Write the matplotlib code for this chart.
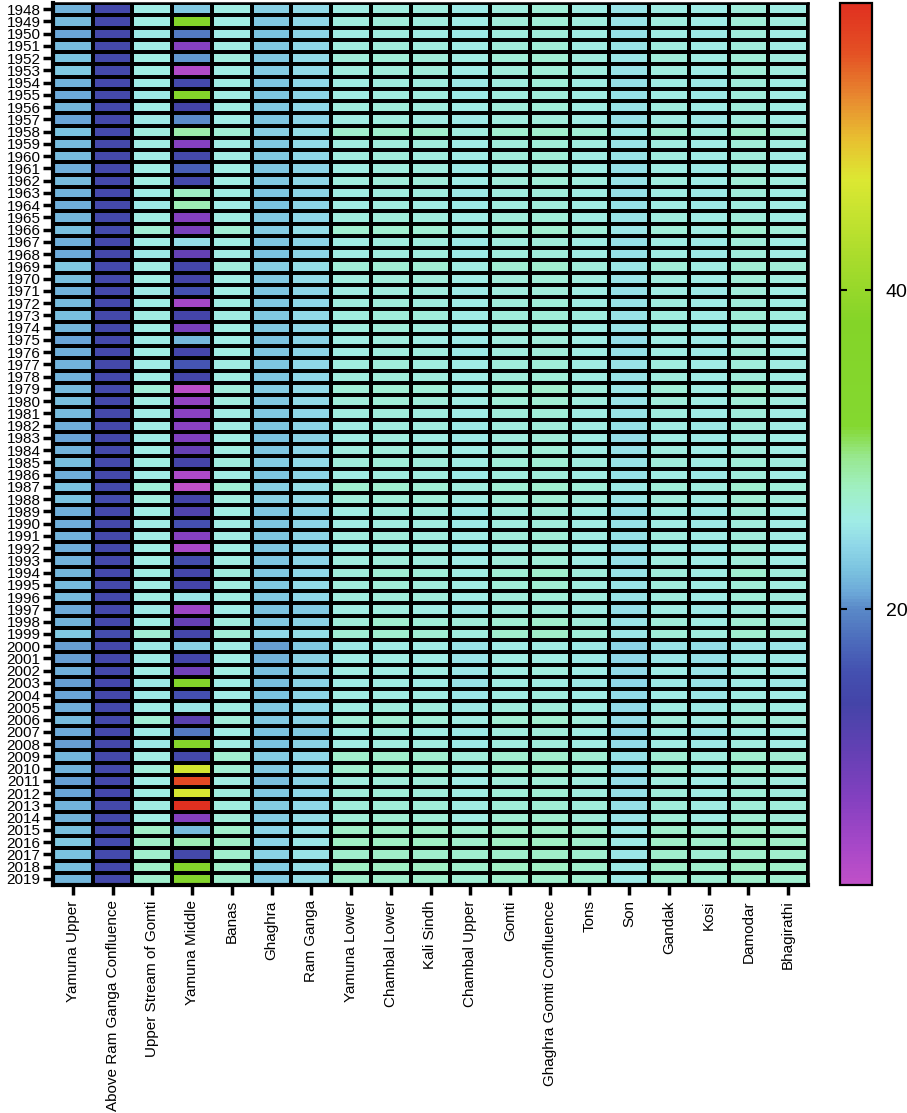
import numpy as np
import matplotlib
matplotlib.use("Agg")
import matplotlib.pyplot as plt
from matplotlib.colors import LinearSegmentedColormap, Normalize

plt.rcParams['font.family'] = ['Liberation Sans', 'DejaVu Sans']

years = [str(y) for y in range(1948, 2020)]
basins = ["Yamuna Upper", "Above Ram Ganga Confluence", "Upper Stream of Gomti",
          "Yamuna Middle", "Banas", "Ghaghra", "Ram Ganga", "Yamuna Lower",
          "Chambal Lower", "Kali Sindh", "Chambal Upper", "Gomti",
          "Ghaghra Gomti Confluence", "Tons", "Son", "Gandak", "Kosi",
          "Damodar", "Bhagirathi"]

# one row of 12 values per line: 1948-59, 1960-71, 1972-83, 1984-95, 1996-2007, 2008-19
yamuna_upper = [
    21.5, 22.0, 21.0, 22.0, 22.5, 23.0, 21.5, 21.2, 21.8, 21.0, 22.5, 22.0,
    22.0, 21.3, 22.0, 21.5, 21.3, 21.8, 22.2, 21.3, 21.2, 22.8, 22.2, 21.5,
    22.0, 22.2, 21.8, 21.0, 21.3, 21.5, 21.5, 22.0, 22.3, 22.0, 21.3, 21.0,
    21.5, 22.3, 21.3, 22.5, 22.5, 21.3, 21.3, 21.5, 21.3, 21.5, 21.8, 22.0,
    22.0, 21.2, 21.5, 23.0, 20.7, 20.8, 21.3, 20.7, 21.0, 21.3, 22.0, 21.2,
    20.8, 21.8, 21.5, 20.8, 21.0, 21.5, 21.5, 22.3, 22.8, 22.5, 22.3, 21.8]
above_ram_ganga = [
    15.0, 14.8, 14.6, 15.0, 15.2, 15.0, 14.8, 14.8, 15.0, 14.7, 15.2, 15.0,
    14.8, 14.8, 15.0, 14.9, 14.8, 15.0, 15.2, 14.8, 14.7, 15.1, 15.0, 14.8,
    15.0, 15.0, 14.9, 14.8, 14.8, 15.0, 14.9, 15.1, 15.0, 14.8, 14.7, 14.6,
    14.9, 15.1, 14.8, 15.2, 15.3, 14.9, 14.8, 14.8, 14.8, 14.8, 15.0, 15.0,
    15.0, 14.7, 14.9, 15.6, 14.6, 14.6, 14.8, 14.6, 14.7, 14.8, 15.0, 14.8,
    14.6, 14.9, 14.8, 14.6, 14.7, 14.8, 14.9, 15.2, 15.3, 15.1, 15.0, 15.0]
upper_gomti = [
    25.4, 25.6, 25.3, 25.5, 25.8, 25.6, 25.4, 25.3, 25.5, 25.3, 26.0, 25.6,
    25.5, 25.4, 25.6, 25.4, 25.3, 25.6, 26.5, 25.4, 25.3, 25.8, 25.6, 25.3,
    25.5, 25.6, 25.5, 25.3, 25.4, 25.5, 25.5, 26.3, 25.7, 25.5, 25.4, 25.3,
    25.5, 25.8, 25.4, 26.3, 25.9, 25.4, 25.4, 25.5, 25.4, 25.5, 25.6, 25.7,
    25.6, 25.3, 25.5, 26.5, 25.2, 25.2, 25.4, 25.2, 25.3, 25.4, 26.5, 25.3,
    25.3, 25.8, 26.2, 25.5, 25.6, 25.7, 25.8, 27.3, 27.2, 27.0, 27.3, 27.0]
yamuna_middle = [
    23.0, 36.0, 19.0, 8.0, 20.5, 4.0, 15.0, 36.0, 14.0, 20.0, 28.5, 8.0,
    15.0, 17.0, 15.0, 27.5, 28.0, 8.0, 9.0, 24.5, 11.0, 14.5, 14.0, 16.0,
    5.5, 14.0, 9.0, 21.8, 14.5, 16.5, 14.5, 3.5, 7.0, 7.5, 7.5, 8.5,
    11.0, 14.0, 4.5, 2.8, 14.0, 13.0, 16.0, 8.0, 5.0, 15.5, 14.5, 14.0,
    25.0, 6.0, 11.0, 14.5, 23.5, 14.5, 10.0, 36.0, 16.0, 25.0, 12.0, 19.0,
    36.0, 15.0, 46.0, 55.5, 46.5, 58.0, 8.0, 22.0, 28.0, 15.0, 36.0, 35.0]
banas = [
    25.6, 25.8, 25.5, 25.7, 25.9, 25.8, 25.6, 25.6, 25.7, 25.5, 26.6, 25.8,
    25.7, 25.6, 25.8, 25.6, 25.5, 25.7, 26.5, 25.6, 25.6, 26.2, 25.8, 25.6,
    25.7, 25.8, 25.7, 25.5, 25.6, 25.7, 25.7, 26.2, 25.9, 25.7, 25.6, 25.5,
    25.7, 25.9, 25.6, 26.5, 26.0, 25.6, 25.6, 25.7, 25.6, 25.7, 26.0, 25.9,
    25.8, 25.5, 26.0, 26.3, 25.4, 25.4, 25.6, 25.4, 25.5, 25.6, 26.2, 25.5,
    25.6, 26.7, 26.6, 25.8, 25.9, 26.0, 26.1, 27.0, 27.3, 27.0, 27.3, 26.9]
ghaghra = [
    23.3, 22.8, 22.5, 22.8, 23.0, 23.2, 22.7, 22.7, 22.8, 22.6, 23.3, 23.0,
    23.0, 22.6, 22.8, 22.6, 22.5, 22.8, 23.2, 22.6, 22.5, 23.3, 23.0, 22.7,
    22.9, 23.0, 22.8, 22.5, 22.6, 22.7, 22.7, 23.2, 23.0, 22.8, 22.6, 22.4,
    22.7, 23.1, 22.6, 23.4, 23.3, 22.6, 22.6, 22.7, 22.6, 22.7, 22.9, 23.0,
    23.0, 22.5, 23.0, 24.0, 20.8, 21.5, 22.2, 22.2, 22.5, 23.0, 23.0, 22.4,
    22.5, 23.2, 22.8, 22.3, 22.8, 23.2, 23.2, 23.8, 23.8, 23.5, 23.2, 23.2]
ram_ganga = [
    24.2, 24.0, 23.7, 24.0, 24.2, 24.3, 23.9, 23.8, 24.0, 23.7, 24.4, 24.1,
    24.0, 23.8, 24.0, 23.8, 23.7, 24.0, 24.4, 23.8, 23.7, 24.4, 24.1, 23.8,
    24.0, 24.1, 23.9, 23.6, 23.8, 23.9, 23.9, 24.3, 24.1, 23.9, 23.7, 23.5,
    23.8, 24.2, 23.7, 24.5, 24.3, 23.7, 23.7, 23.8, 23.7, 23.8, 24.0, 24.1,
    24.0, 23.0, 23.5, 24.5, 22.9, 23.5, 23.5, 23.5, 23.8, 24.0, 23.5, 23.0,
    23.5, 24.0, 24.0, 23.5, 24.0, 24.0, 24.5, 24.8, 25.0, 24.8, 24.5, 24.5]
yamuna_lower = [
    25.8, 26.0, 25.7, 25.9, 26.1, 26.0, 25.8, 25.8, 25.9, 25.7, 26.9, 26.0,
    25.9, 25.8, 26.0, 25.8, 25.7, 25.9, 26.7, 25.8, 25.8, 26.4, 26.0, 25.8,
    25.9, 26.0, 25.9, 25.7, 25.8, 25.9, 25.9, 26.3, 26.1, 25.9, 25.8, 25.7,
    25.9, 26.1, 25.8, 26.7, 26.2, 25.8, 25.8, 25.9, 25.8, 25.9, 26.2, 26.1,
    26.0, 25.7, 26.2, 26.6, 25.3, 25.4, 25.6, 25.4, 25.6, 25.8, 26.3, 25.7,
    25.8, 26.9, 26.7, 26.0, 26.1, 26.2, 26.3, 27.2, 27.4, 27.1, 27.4, 27.0]
chambal_lower = [
    26.0, 26.2, 25.9, 26.1, 26.3, 26.2, 26.0, 26.0, 26.1, 25.9, 27.1, 26.2,
    26.1, 26.0, 26.2, 26.0, 25.9, 26.1, 26.8, 26.0, 26.0, 26.6, 26.2, 26.0,
    26.1, 26.2, 26.1, 25.9, 26.0, 26.1, 26.1, 26.5, 26.3, 26.1, 26.0, 25.9,
    26.1, 26.3, 26.0, 26.8, 26.4, 26.0, 26.0, 26.1, 26.0, 26.1, 26.6, 26.3,
    26.2, 25.9, 26.8, 26.8, 25.5, 25.6, 25.8, 25.6, 25.8, 26.0, 26.5, 25.9,
    26.0, 27.0, 26.9, 26.2, 26.3, 26.4, 26.5, 27.3, 27.5, 27.2, 27.5, 27.1]
kali_sindh = [
    25.9, 26.0, 25.8, 26.0, 26.2, 26.1, 25.9, 25.9, 26.0, 25.8, 26.9, 26.1,
    26.0, 25.9, 26.1, 25.9, 25.8, 26.0, 26.6, 25.9, 25.9, 26.5, 26.1, 25.9,
    26.0, 26.1, 26.0, 25.8, 25.9, 26.0, 26.0, 26.4, 26.2, 26.0, 25.9, 25.8,
    26.0, 26.2, 25.9, 26.6, 26.3, 25.9, 25.9, 26.0, 25.9, 26.0, 26.4, 26.2,
    26.1, 25.8, 26.4, 26.6, 25.4, 25.5, 25.7, 25.5, 25.7, 25.9, 26.4, 25.8,
    25.9, 26.8, 26.7, 26.1, 26.2, 26.3, 26.4, 27.2, 27.4, 27.1, 27.5, 27.0]
chambal_upper = [
    25.3, 25.5, 25.2, 25.4, 25.6, 25.5, 25.3, 25.3, 25.4, 25.2, 26.0, 25.5,
    25.4, 25.3, 25.5, 25.3, 25.2, 25.4, 26.0, 25.3, 25.3, 25.8, 25.5, 25.3,
    25.4, 25.5, 25.4, 25.2, 25.3, 25.4, 25.4, 25.8, 25.6, 25.4, 25.3, 25.2,
    25.4, 25.6, 25.3, 26.0, 25.7, 25.3, 25.3, 25.4, 25.3, 25.4, 25.7, 25.6,
    25.5, 25.2, 26.2, 26.0, 24.8, 24.9, 25.1, 24.9, 25.1, 25.3, 25.8, 25.2,
    25.3, 26.2, 26.0, 25.5, 25.6, 25.7, 25.8, 26.8, 27.0, 26.7, 27.0, 26.6]
gomti = [
    26.0, 26.2, 25.9, 26.1, 26.3, 26.2, 26.0, 26.0, 26.1, 25.9, 26.8, 26.2,
    26.1, 26.0, 26.2, 26.0, 25.9, 26.1, 26.6, 26.0, 26.0, 26.5, 26.2, 26.0,
    26.1, 26.2, 26.1, 25.9, 26.0, 26.1, 26.1, 26.6, 26.3, 26.1, 26.0, 25.9,
    26.1, 26.3, 26.0, 26.6, 26.4, 26.0, 26.0, 26.1, 26.0, 26.1, 26.5, 26.3,
    26.2, 25.9, 26.5, 27.0, 25.5, 25.6, 25.8, 25.6, 25.8, 26.0, 26.5, 25.9,
    26.0, 26.8, 26.7, 26.2, 26.3, 26.4, 26.5, 27.2, 27.4, 27.1, 27.4, 27.0]
ghaghra_gomti = [
    26.3, 26.4, 26.2, 26.3, 26.5, 26.4, 26.3, 26.2, 26.3, 26.1, 26.9, 26.4,
    26.3, 26.2, 26.4, 26.2, 26.1, 26.3, 26.8, 26.2, 26.2, 26.7, 26.4, 26.2,
    26.3, 26.4, 26.3, 26.1, 26.2, 26.3, 26.3, 27.0, 26.5, 26.3, 26.2, 26.1,
    26.3, 26.5, 26.2, 26.8, 26.6, 26.2, 26.2, 26.3, 26.2, 26.3, 27.0, 26.5,
    26.4, 26.1, 26.9, 27.2, 25.7, 25.8, 26.0, 25.8, 26.0, 26.2, 26.7, 26.1,
    26.2, 27.0, 26.9, 26.4, 26.5, 26.6, 26.7, 27.3, 27.5, 27.2, 27.5, 27.1]
tons = [
    25.8, 25.9, 25.7, 25.8, 26.0, 25.9, 25.8, 25.7, 25.8, 25.6, 26.5, 25.9,
    25.8, 25.7, 25.9, 25.7, 25.6, 25.8, 26.4, 25.7, 25.7, 26.2, 25.9, 25.7,
    25.8, 25.9, 25.8, 25.6, 25.7, 25.8, 25.8, 26.2, 26.0, 25.8, 25.7, 25.6,
    25.8, 26.0, 25.7, 26.4, 26.1, 25.7, 25.7, 25.8, 25.7, 25.8, 26.1, 26.0,
    25.9, 25.6, 26.1, 26.4, 25.2, 25.3, 25.5, 25.3, 25.5, 25.7, 26.2, 25.6,
    25.7, 26.5, 26.4, 25.9, 26.0, 26.1, 26.2, 26.9, 27.1, 26.8, 27.1, 26.7]
son = [
    24.8, 24.9, 24.6, 24.8, 25.0, 24.9, 24.7, 24.7, 24.8, 24.6, 25.2, 24.9,
    24.8, 24.7, 24.9, 24.7, 24.6, 24.8, 25.1, 24.7, 24.6, 25.0, 24.9, 24.7,
    24.8, 24.9, 24.8, 24.5, 24.7, 24.8, 24.8, 25.1, 24.9, 24.8, 24.6, 24.5,
    24.7, 24.9, 24.6, 25.2, 25.0, 24.6, 24.6, 24.7, 24.6, 24.7, 24.9, 24.9,
    24.9, 24.5, 24.8, 25.0, 23.8, 24.0, 24.2, 24.0, 24.2, 24.3, 24.5, 24.3,
    24.3, 24.6, 24.6, 24.4, 24.6, 24.7, 24.8, 25.2, 25.3, 25.1, 25.3, 25.2]
gandak = [
    25.8, 26.0, 25.7, 25.9, 26.1, 26.0, 25.8, 25.8, 25.9, 25.7, 26.6, 26.0,
    25.9, 25.8, 26.0, 25.8, 25.7, 25.9, 26.4, 25.8, 25.8, 26.3, 26.0, 25.8,
    25.9, 26.0, 25.9, 25.7, 25.8, 25.9, 25.9, 26.3, 26.1, 25.9, 25.8, 25.7,
    25.9, 26.1, 25.8, 26.4, 26.2, 25.8, 25.8, 25.9, 25.8, 25.9, 26.2, 26.1,
    26.0, 25.7, 26.1, 26.3, 24.9, 25.1, 25.4, 25.2, 25.5, 25.7, 26.2, 25.6,
    25.8, 26.6, 26.5, 26.0, 26.1, 26.2, 26.3, 27.0, 27.2, 26.9, 27.2, 26.8]
kosi = [
    25.4, 25.5, 25.2, 25.4, 25.6, 25.5, 25.3, 25.3, 25.4, 25.2, 25.9, 25.5,
    25.4, 25.3, 25.5, 25.3, 25.2, 25.4, 25.8, 25.3, 25.3, 25.7, 25.5, 25.3,
    25.4, 25.5, 25.4, 25.2, 25.3, 25.4, 25.4, 25.8, 25.6, 25.4, 25.3, 25.2,
    25.4, 25.6, 25.3, 25.9, 25.7, 25.3, 25.3, 25.4, 25.3, 25.4, 25.7, 25.6,
    25.5, 25.2, 25.6, 25.9, 24.5, 24.7, 24.9, 24.8, 25.0, 25.2, 25.6, 25.1,
    25.3, 26.0, 25.9, 25.5, 25.6, 25.7, 25.8, 26.7, 26.9, 26.6, 26.9, 26.5]
damodar = [
    26.2, 26.3, 26.1, 26.2, 26.4, 26.3, 26.2, 26.1, 26.2, 26.0, 26.9, 26.3,
    26.2, 26.1, 26.3, 26.1, 26.0, 26.2, 26.7, 26.1, 26.1, 26.6, 26.3, 26.1,
    26.2, 26.3, 26.2, 26.0, 26.1, 26.2, 26.2, 26.9, 26.4, 26.2, 26.1, 26.0,
    26.2, 26.4, 26.1, 26.7, 26.5, 26.1, 26.1, 26.2, 26.1, 26.2, 26.8, 26.4,
    26.3, 26.0, 26.5, 26.8, 25.1, 25.3, 25.6, 25.4, 25.7, 25.9, 26.4, 25.8,
    26.0, 26.8, 26.7, 26.2, 26.3, 26.4, 26.5, 27.2, 27.4, 27.1, 27.4, 27.0]
bhagirathi = [
    25.8, 25.9, 25.7, 25.8, 26.0, 25.9, 25.8, 25.7, 25.8, 25.6, 26.6, 25.9,
    25.8, 25.7, 25.9, 25.7, 25.6, 25.8, 26.4, 25.7, 25.7, 26.3, 25.9, 25.7,
    25.8, 25.9, 25.8, 25.6, 25.7, 25.8, 25.8, 26.2, 26.0, 25.8, 25.7, 25.6,
    25.8, 26.0, 25.7, 26.4, 26.1, 25.7, 25.7, 25.8, 25.7, 25.8, 26.2, 26.0,
    25.9, 25.6, 26.1, 26.3, 25.0, 25.2, 25.4, 25.2, 25.5, 25.6, 26.1, 25.6,
    25.7, 26.6, 26.5, 25.9, 26.0, 26.1, 26.2, 27.0, 27.2, 26.9, 27.2, 26.8]

columns = [yamuna_upper, above_ram_ganga, upper_gomti, yamuna_middle, banas,
           ghaghra, ram_ganga, yamuna_lower, chambal_lower, kali_sindh,
           chambal_upper, gomti, ghaghra_gomti, tons, son, gandak, kosi,
           damodar, bhagirathi]
data = np.array(columns).T

vmin, vmax = 2.7, 58.0
stops = [(2.7, "#c050c8"), (5, "#a848c8"), (8, "#8440c0"), (11, "#6440b4"),
         (14, "#4444a8"), (16, "#4450b0"), (18, "#4c6cbc"), (20, "#5a8ac8"),
         (21, "#6ca8d8"), (22.5, "#7cc4e0"), (24, "#90d8e8"), (25.5, "#a0ece6"),
         (27.5, "#a0f0c4"), (29.5, "#98e890"), (31.5, "#84d830"), (38, "#84d428"),
         (42, "#a8dc2c"), (47, "#dce832"), (49.5, "#e8c030"), (52, "#e88c30"),
         (55, "#e45024"), (58, "#e03020")]
cmap = LinearSegmentedColormap.from_list(
    "rainbowish", [((v - vmin) / (vmax - vmin), c) for v, c in stops])

fig = plt.figure(figsize=(9.07, 11.13), dpi=100)
ax = fig.add_axes([53 / 907, 1 - 885 / 1113, 755 / 907, 882 / 1113])
mesh = ax.pcolormesh(np.arange(len(basins) + 1), np.arange(len(years) + 1), data,
                     cmap=cmap, norm=Normalize(vmin, vmax),
                     edgecolors="black", linewidth=1.6)
ax.set_xlim(0, len(basins))
ax.set_ylim(len(years), 0)
ax.set_xticks(np.arange(len(basins)) + 0.5)
ax.set_xticklabels(basins, rotation=90, fontsize=11)
ax.set_yticks(np.arange(len(years)) + 0.5)
ax.set_yticklabels(years, fontsize=11)
ax.tick_params(axis="both", length=7, width=2.5, color="black")
ax.tick_params(axis="x", pad=4)
ax.tick_params(axis="y", pad=2)
for side in ["top", "right"]:
    ax.spines[side].set_linewidth(1.8)
for side in ["left", "bottom"]:
    ax.spines[side].set_linewidth(3)

cax = fig.add_axes([840 / 907, 1 - 885 / 1113, 32 / 907, 882 / 1113])
cb = fig.colorbar(mesh, cax=cax, ticks=[20, 40])
cb.outline.set_linewidth(1.6)
cax.yaxis.set_ticks_position("both")
cax.tick_params(axis="y", which="major", direction="in", left=True, right=True,
                labelleft=False, labelright=True, length=5, width=1.5,
                labelsize=14, pad=10)
cax.minorticks_off()

fig.savefig("out.png", dpi=100)
